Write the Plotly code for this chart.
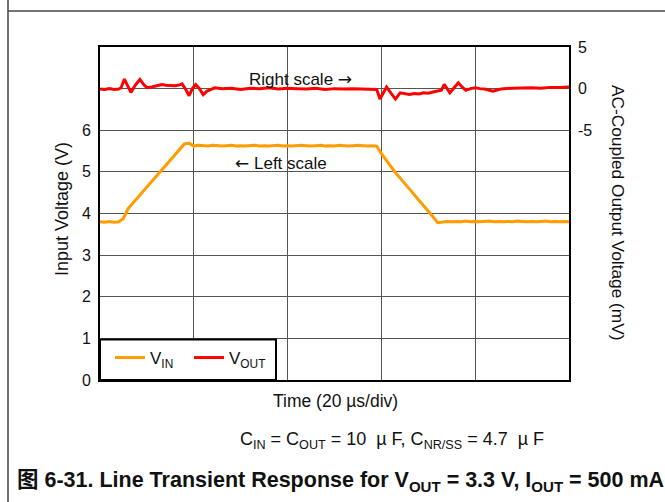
import plotly.graph_objects as go

# ---- data -----------------------------------------------------------------
# Input voltage (V), sampled every 1 us over 100 us (5 div x 20 us)
t_vin = list(range(0, 101))
vin = [
    3.80, 3.79, 3.81, 3.79, 3.80, 3.88, 4.12, 4.25, 4.39, 4.52,
    4.65, 4.78, 4.91, 5.04, 5.17, 5.30, 5.43, 5.55, 5.67,
    5.69, 5.62, 5.64, 5.63, 5.62, 5.64, 5.63, 5.62, 5.63, 5.64,
    5.62, 5.63, 5.62, 5.63, 5.64, 5.62, 5.63, 5.62, 5.63, 5.64,
    5.62, 5.63, 5.62, 5.63, 5.64, 5.63, 5.62, 5.63, 5.64, 5.62,
    5.63, 5.62, 5.64, 5.63, 5.62, 5.63, 5.64, 5.63, 5.62, 5.63,
    5.62,
    5.44, 5.28, 5.12, 4.98, 4.85, 4.72, 4.58, 4.45, 4.32, 4.18,
    4.05, 3.92, 3.78,
    3.79, 3.81, 3.80, 3.81, 3.80, 3.82, 3.80, 3.81, 3.80, 3.81,
    3.82, 3.80, 3.81, 3.80, 3.81, 3.80, 3.82, 3.81, 3.80, 3.81,
    3.80, 3.81, 3.82, 3.80, 3.81, 3.80, 3.81, 3.80,
]

# AC-coupled output voltage (mV)
t_vout = [
    0, 1, 2, 3, 4, 4.5, 5.2, 5.9, 6.6, 7.5,
    8.5, 9.3, 10.0, 11, 12, 13.2, 14, 15, 16, 17,
    17.5, 18.3, 19.0, 19.7, 20.4, 21.2, 22.0, 22.8, 23.5, 24.5,
    26, 28, 30, 32, 34, 36, 38, 40, 42, 44,
    46, 48, 50, 52, 54, 56, 58, 59, 59.7, 60.4,
    61.1, 62.0, 63.0, 64.0, 65, 66, 67, 68, 69, 70,
    71, 72, 72.8, 73.4, 74.0, 74.6, 75.5, 76.4, 77.2, 78.0,
    79, 80, 81, 82, 83, 83.8, 85, 86, 88, 90,
    92, 94, 96, 98, 100,
]
vout = [
    -0.05, -0.1, 0.0, -0.1, -0.05, 0.1, 1.15, 0.4, -0.45, 0.4,
    1.1, 0.5, 0.12, 0.2, 0.3, 0.48, 0.4, 0.35, 0.36, 0.45,
    0.57, -0.1, -0.85, 0.0, 0.48, 0.0, -0.73, -0.3, -0.12, 0.1,
    0.0, 0.05, -0.1, 0.05, 0.0, 0.1, -0.05, 0.05, 0.0, -0.05,
    0.05, -0.1, 0.0, -0.05, 0.0, -0.05, -0.1, -0.1, -1.25, -0.5,
    0.2, -0.5, -1.25, -0.5, -0.6, -0.7, -0.6, -0.65, -0.5, -0.55,
    -0.4, -0.3, -0.2, 0.5, 0.0, -0.5, 0.1, 0.7, 0.2, -0.2,
    0.0, 0.1, 0.0, -0.05, -0.2, -0.3, -0.1, 0.0, 0.05, 0.1,
    0.1, 0.05, 0.15, 0.15, 0.2,
]

left_ticks = [0, 1, 2, 3, 4, 5, 6, 7]
left_labels = ["0", "1", "2", "3", "4", "5", "6", ""]
right_ticks = [5, 0, -5]
right_labels = ["5", "0", "-5"]

# ---- layout geometry (pixels) ---------------------------------------------
W_FIG, H_FIG = 665, 502
L, R, T, B = 100, 569, 47, 380
PW, PH = R - L, B - T


def px_x(px):
    return (px - L) / PW


def px_y(py):
    return (B - py) / PH


FONT = "Liberation Sans, Arial, Noto Sans CJK SC, sans-serif"
INK = "#111111"
GRID = "#555555"

fig = go.Figure()
fig.add_trace(go.Scatter(
    x=t_vin, y=vin, name="V<sub>IN</sub>", mode="lines",
    line=dict(color="#FF9C00", width=3), yaxis="y",
))
fig.add_trace(go.Scatter(
    x=t_vout, y=vout, name="V<sub>OUT</sub>", mode="lines",
    line=dict(color="#FF0000", width=3), yaxis="y2",
))

fig.update_layout(
    width=W_FIG, height=H_FIG,
    margin=dict(l=L, r=W_FIG - R, t=T, b=H_FIG - B, pad=0),
    paper_bgcolor="white", plot_bgcolor="white",
    font=dict(family=FONT, size=16, color=INK),
    xaxis=dict(
        range=[0, 100], dtick=20, showticklabels=False, ticks="",
        showgrid=True, gridcolor=GRID, gridwidth=1, zeroline=False,
        showline=True, linecolor="black", linewidth=2, mirror=True,
    ),
    yaxis=dict(
        range=[0, 8], tickvals=left_ticks, ticktext=left_labels,
        ticks="", ticklabelstandoff=4,
        showgrid=True, gridcolor=GRID, gridwidth=1, zeroline=False,
        showline=True, linecolor="black", linewidth=2, mirror=True,
        tickfont=dict(size=16),
    ),
    yaxis2=dict(
        range=[-35, 5], tickvals=right_ticks, ticktext=right_labels,
        overlaying="y", side="right", ticks="", ticklabelstandoff=8,
        showgrid=False, zeroline=False, showline=False,
        tickfont=dict(size=16),
    ),
    showlegend=True,
    legend=dict(
        orientation="h", x=px_x(110), y=px_y(340), xanchor="left", yanchor="top",
        bgcolor="rgba(0,0,0,0)", borderwidth=0, font=dict(size=17),
        itemwidth=30, tracegroupgap=0, entrywidth=34,
    ),
)

shapes = [
    # legend frame
    dict(type="rect", xref="paper", yref="paper",
         x0=px_x(100), x1=px_x(276), y0=px_y(380), y1=px_y(339.5),
         fillcolor="white", line=dict(color="black", width=2), layer="above"),
    # page rules
    dict(type="line", xref="paper", yref="paper",
         x0=px_x(8), x1=px_x(8), y0=px_y(0), y1=px_y(502),
         line=dict(color="#444444", width=1.5)),
    dict(type="line", xref="paper", yref="paper",
         x0=px_x(8), x1=px_x(665), y0=px_y(11), y1=px_y(11),
         line=dict(color="#444444", width=1.5)),
]
fig.update_layout(shapes=shapes)


def label(text, cx, cy, size, angle=0):
    return dict(text=text, x=px_x(cx), y=px_y(cy), xref="paper", yref="paper",
                xanchor="center", yanchor="middle", showarrow=False,
                textangle=angle, font=dict(size=size, color=INK))


ARROW = '<span style="font-family:DejaVu Sans">{}</span>'

annotations = [
    label("Right scale " + ARROW.format("\u2192"), 300, 79, 17),
    label(ARROW.format("\u2190") + " Left scale", 281, 163, 17),
    label("Time (20 \u00b5s/div)", 335, 401, 17.5),
    label("Input Voltage (V)", 62, 209, 18, -90),
    label("AC-Coupled Output Voltage (mV)", 618, 213, 17.3, 90),
    label("C<sub>IN</sub> = C<sub>OUT</sub> = 10  \u00b5 F, C<sub>NR/SS</sub> = 4.7  \u00b5 F",
          392, 440, 18),
    label("<b>\u56fe 6-31. Line Transient Response for V<sub>OUT</sub> = 3.3 V, "
          "I<sub>OUT</sub> = 500 mA</b>", 340, 481, 21.5),
]
fig.update_layout(annotations=annotations)

fig.write_html("out.html")
